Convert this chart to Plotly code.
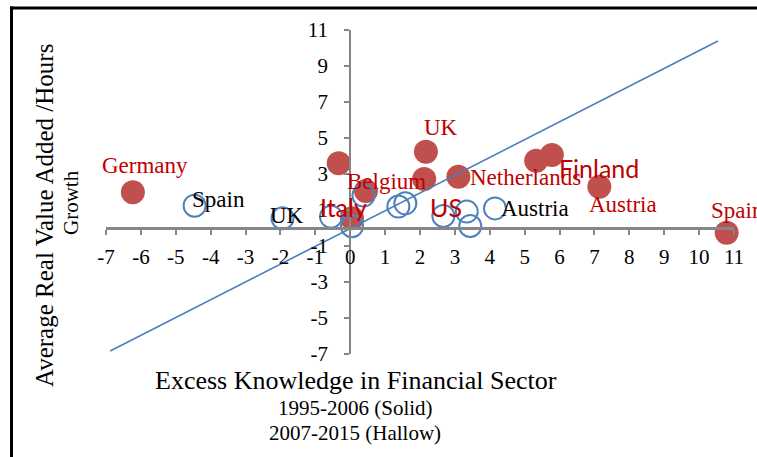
import plotly.graph_objects as go

# ---- data ----
solid_x = [-6.23, -0.33, 2.17, 2.12, 3.10, 5.33, 5.78, 7.14, 0.45, 0.05, 10.79]
solid_y = [1.98, 3.60, 4.24, 2.72, 2.85, 3.74, 4.06, 2.29, 2.05, 0.54, -0.26]

hollow_x = [-4.46, -1.94, -0.55, 0.05, 0.38, 1.38, 1.58, 2.67, 3.34, 3.44, 4.15]
hollow_y = [1.24, 0.54, 0.63, 0.10, 1.80, 1.19, 1.37, 0.67, 0.91, 0.11, 1.09]

trend_x = [-6.88, 10.54]
trend_y = [-6.83, 10.39]

x_ticks = list(range(-7, 12))
x_tick_text = [str(v) for v in x_ticks]
y_ticks = [-7, -5, -3, -1, 1, 3, 5, 7, 9, 11]
y_tick_text = [str(v) for v in y_ticks]

# labels: (text, x, y) in data units
red_serif_labels = [("Germany", -5.87, 3.5), ("UK", 2.59, 5.56), ("Belgium", 1.03, 2.61),
                    ("Netherlands", 5.01, 2.83), ("Austria", 7.82, 1.28)]
red_sans_labels = [("Italy", -0.2, 1.17), ("US", 2.75, 1.17), ("Finland", 7.13, 3.33)]
red_left_labels = [("Spain", 10.29, 1.0)]
black_labels = [("Spain", -3.78, 1.61), ("UK", -1.81, 0.67), ("Austria", 5.31, 1.06)]

x_title = "Excess Knowledge in Financial Sector"
sub1 = "1995-2006 (Solid)"
sub2 = "2007-2015 (Hallow)"
y_title1 = "Average Real Value Added /Hours"
y_title2 = "Growth"

SERIF = "Liberation Serif, Times New Roman, serif"
RED = "#C00000"
AX = "#868686"

W, H = 757, 457
L, R, T, B = 106, 23, 30, 103
PW, PH = W - L - R, H - T - B
XMIN, XMAX, YMIN, YMAX = -7, 11, -7, 11


def px_x(p):
    return (p - L) / PW


def px_y(p):
    return (H - B - p) / PH


fig = go.Figure()
fig.add_trace(go.Scatter(x=solid_x, y=solid_y, mode="markers",
                         marker=dict(size=24, color="#C0504D", line=dict(width=0)),
                         showlegend=False, cliponaxis=False))
fig.add_trace(go.Scatter(x=hollow_x, y=hollow_y, mode="markers",
                         marker=dict(size=22, color="rgba(0,0,0,0)",
                                     line=dict(width=2, color="#4F81BD")),
                         showlegend=False))
fig.add_trace(go.Scatter(x=trend_x, y=trend_y, mode="lines",
                         line=dict(color="#4A7EBB", width=1.6), showlegend=False))

ann = []
for t, x, y in red_serif_labels:
    ann.append(dict(x=x, y=y, text=t, showarrow=False, font=dict(family=SERIF, size=23, color=RED)))
for t, x, y in red_sans_labels:
    ann.append(dict(x=x, y=y, text=t, showarrow=False, font=dict(family="Lato, sans-serif", size=25, color=RED)))
for t, x, y in red_left_labels:
    ann.append(dict(x=x, y=y, text=t, showarrow=False, xanchor="left",
                    font=dict(family=SERIF, size=23, color=RED)))
for t, x, y in black_labels:
    ann.append(dict(x=x, y=y, text=t, showarrow=False, font=dict(family=SERIF, size=23, color="black")))


def paper_text(t, px, py, size, angle=0):
    return dict(xref="paper", yref="paper", x=px_x(px), y=px_y(py), text=t, showarrow=False,
                xanchor="center", yanchor="middle", textangle=angle,
                font=dict(family=SERIF, size=size, color="black"))


ann.append(paper_text(x_title, 356, 380, 26))
ann.append(paper_text(sub1, 355, 408, 21))
ann.append(paper_text(sub2, 355, 433, 21))
ann.append(paper_text(y_title1, 44, 216, 25, -90))
ann.append(paper_text(y_title2, 71, 203, 21, -90))

shapes = [
    dict(type="line", xref="paper", yref="paper", x0=px_x(11.5), x1=px_x(11.5), y0=px_y(6.5), y1=px_y(470),
         line=dict(color="black", width=3)),
    dict(type="line", xref="paper", yref="paper", x0=px_x(10), x1=px_x(770), y0=px_y(8), y1=px_y(8),
         line=dict(color="black", width=3)),
]

fig.update_layout(
    width=W, height=H, margin=dict(l=L, r=R, t=T, b=B, autoexpand=False),
    paper_bgcolor="white", plot_bgcolor="white",
    annotations=ann, shapes=shapes,
    xaxis=dict(range=[XMIN, XMAX], tickvals=x_ticks, ticktext=x_tick_text, showgrid=False,
               zeroline=False, automargin=False,
               showline=True, linecolor=AX, linewidth=3, ticks="outside", ticklen=5,
               tickcolor=AX, tickwidth=2, anchor="free", position=(0 - YMIN) / (YMAX - YMIN),
               ticklabelstandoff=4,
               tickfont=dict(family=SERIF, size=21, color="black")),
    yaxis=dict(range=[YMIN, YMAX], tickvals=y_ticks, ticktext=y_tick_text, showgrid=False,
               zeroline=False, automargin=False,
               showline=True, linecolor=AX, linewidth=2, ticks="outside", ticklen=5,
               tickcolor=AX, tickwidth=2, anchor="free", position=(0 - XMIN) / (XMAX - XMIN),
               ticklabelstandoff=12,
               tickfont=dict(family=SERIF, size=21, color="black")),
)

fig.write_html("out.html", config={"displayModeBar": False},
               post_script="document.body.style.margin='0px';document.body.style.overflow='hidden';")
